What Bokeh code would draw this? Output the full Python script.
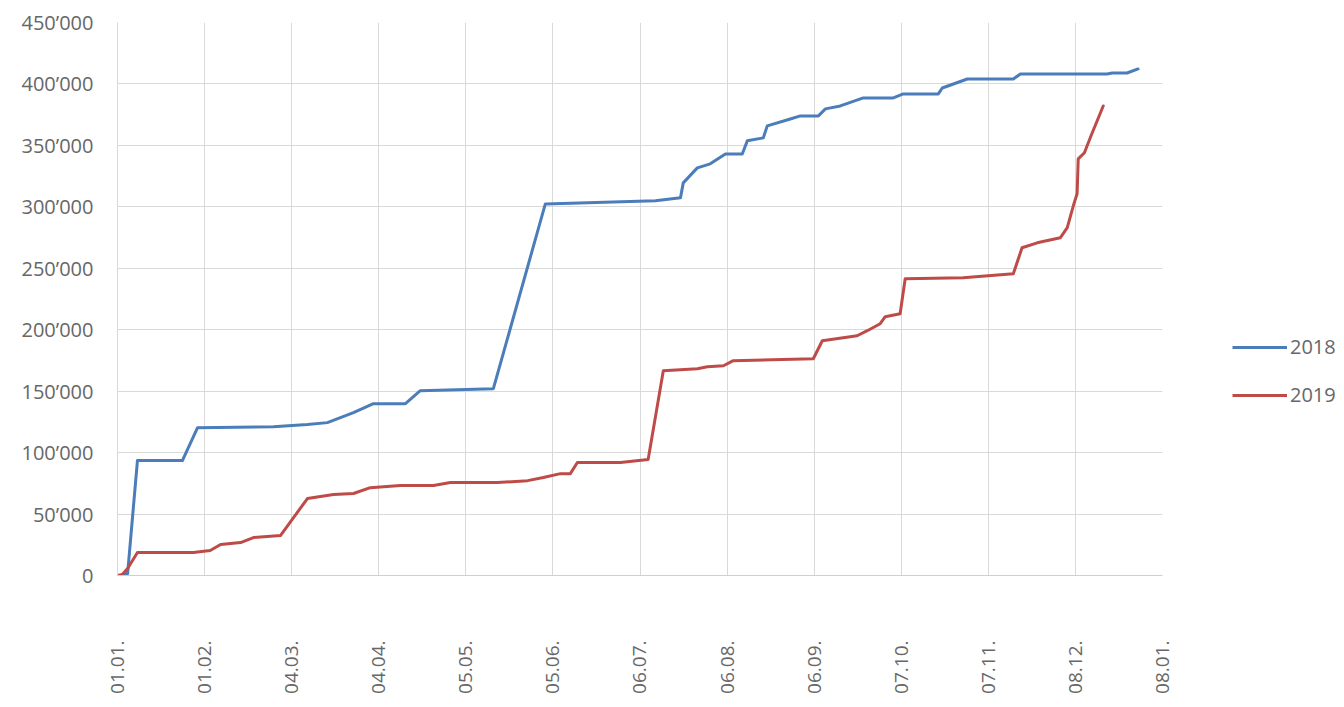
from bokeh.plotting import figure
from bokeh.models import FixedTicker, Legend, LegendItem, Range1d, ColumnDataSource
from bokeh.layouts import row
from bokeh.embed import file_html
from bokeh.resources import INLINE

# ---- data (x = days since 01.01.) ----
days_2018 = [0, 3.6, 7.1, 23.1, 28.5, 55.5, 67.6, 74.7, 84, 91.1, 102.5, 107.8, 133.8,
             152.3, 191.5, 200.4, 201.4, 206.4, 211, 216.4, 222.4, 224.2, 229.9, 231.3,
             239.5, 243.1, 249.5, 252, 257.3, 265.5, 276.2, 279.7, 292.2, 293.6, 302.5,
             318.9, 321.4, 352.3, 354.1, 359.4, 363.3]
vals_2018 = [0, 1600, 93500, 93500, 120300, 121100, 122800, 124400, 132500, 139800, 139800,
             150400, 152000, 302400, 304900, 307300, 319500, 331700, 335000, 343000, 343000,
             353700, 356100, 365900, 371500, 374000, 374000, 379700, 382100, 388600, 388600,
             391900, 391900, 396700, 404000, 404000, 408100, 408100, 408900, 408900, 412200]

days_2019 = [0, 1.4, 3.6, 7.1, 27, 33, 36.7, 43.8, 48.4, 58, 67.6, 76.9, 84, 90, 100.7,
             112.5, 118.5, 135.2, 146, 151.6, 157.7, 161.2, 163.7, 179, 188.9, 194.3,
             206.4, 210, 215.7, 219.2, 247.7, 250.9, 263.3, 266.9, 271.5, 273.3, 278.6,
             280.4, 301, 318.9, 322, 327.4, 335.6, 338.1, 340.4, 341.6, 342, 344.2,
             346.6, 350.9]
vals_2019 = [0, 0, 5700, 18700, 18700, 20300, 25200, 26800, 30900, 32500, 62600, 65900,
             66700, 71500, 73200, 73200, 75600, 75600, 77200, 79700, 82900, 82900, 91900,
             91900, 94300, 166700, 168300, 169900, 170700, 174800, 176400, 191000, 195100,
             199200, 204900, 210600, 213000, 241500, 242300, 245500, 266700, 270700,
             274800, 283000, 302000, 310600, 339000, 344000, 358000, 382100]

x_tick_days = [0, 31, 62, 93, 124, 155, 186, 217, 248, 279, 310, 341, 372]
x_tick_labels = ["01.01.", "01.02.", "04.03.", "04.04.", "05.05.", "05.06.", "06.07.",
                 "06.08.", "06.09.", "07.10.", "07.11.", "08.12.", "08.01."]
y_ticks = [0, 50000, 100000, 150000, 200000, 250000, 300000, 350000, 400000, 450000]
y_tick_labels = ["0", "50\u2019000", "100\u2019000", "150\u2019000", "200\u2019000",
                 "250\u2019000", "300\u2019000", "350\u2019000", "400\u2019000", "450\u2019000"]
series_names = ["2018", "2019"]
series_colors = ["#4A7DBA", "#BE4B48"]

FONT = "Open Sans"
TXT = "#676767"
GRID = "#d9d9d9"

H = 705
W_MAIN = 1176
W_LEG = 164
FRAME_BOTTOM = 575

p = figure(width=W_MAIN, height=H, output_backend="svg", toolbar_location=None,
           x_range=Range1d(0, 372), y_range=Range1d(0, 450000),
           min_border_left=117, min_border_right=W_MAIN - 1162, min_border_top=22,
           min_border_bottom=H - FRAME_BOTTOM)
p.outline_line_color = None
p.background_fill_color = "white"

src18 = ColumnDataSource(dict(x=days_2018, y=vals_2018))
src19 = ColumnDataSource(dict(x=days_2019, y=vals_2019))
p.line("x", "y", source=src18, line_color=series_colors[0], line_width=3,
       line_join="round", line_cap="round")
p.line("x", "y", source=src19, line_color=series_colors[1], line_width=3,
       line_join="round", line_cap="round")

# axes
p.xaxis.ticker = FixedTicker(ticks=x_tick_days)
p.xaxis.major_label_overrides = {d: l for d, l in zip(x_tick_days, x_tick_labels)}
p.xaxis.major_label_orientation = 1.5707963
p.xaxis.major_label_standoff = 65
p.yaxis.ticker = FixedTicker(ticks=y_ticks)
p.yaxis.major_label_overrides = {v: l for v, l in zip(y_ticks, y_tick_labels)}
p.yaxis.major_label_standoff = 24
for ax in (p.xaxis, p.yaxis):
    ax.major_tick_line_color = None
    ax.minor_tick_line_color = None
    ax.major_tick_out = 0
    ax.major_tick_in = 0
    ax.major_label_text_font = FONT
    ax.major_label_text_color = TXT
p.xaxis.major_label_text_font_size = "19px"
p.yaxis.major_label_text_font_size = "20px"
p.xaxis.axis_line_color = "#cfcfcf"
p.yaxis.axis_line_color = GRID

p.xgrid.grid_line_color = GRID
p.ygrid.grid_line_color = GRID
p.xgrid.ticker = FixedTicker(ticks=x_tick_days)
p.ygrid.ticker = FixedTicker(ticks=y_ticks)

# ---- legend panel (separate small figure on the right; the series are drawn
# there outside its visible range so only their legend entries show) ----
pl = figure(width=W_LEG, height=H, output_backend="svg", toolbar_location=None,
            x_range=Range1d(-20, -10), y_range=Range1d(-20, -10),
            min_border_left=0, min_border_right=0, min_border_top=0, min_border_bottom=0)
pl.axis.visible = False
pl.grid.visible = False
pl.outline_line_color = None
l18 = pl.line("x", "y", source=src18, line_color=series_colors[0], line_width=3)
l19 = pl.line("x", "y", source=src19, line_color=series_colors[1], line_width=3)

legend = Legend(items=[LegendItem(label=series_names[0], renderers=[l18]),
                       LegendItem(label=series_names[1], renderers=[l19])],
                location=(1232 - W_MAIN, FRAME_BOTTOM - 408), orientation="vertical")
legend.margin = 0
legend.padding = 0
legend.spacing = 21
legend.glyph_width = 55
legend.glyph_height = 20
legend.label_height = 20
legend.label_standoff = 3
legend.label_text_font = FONT
legend.label_text_font_size = "20px"
legend.label_text_color = TXT
legend.border_line_color = None
legend.background_fill_alpha = 0
pl.add_layout(legend, "center")

layout = row(p, pl)
open("out.html", "w").write(file_html(layout, INLINE))
